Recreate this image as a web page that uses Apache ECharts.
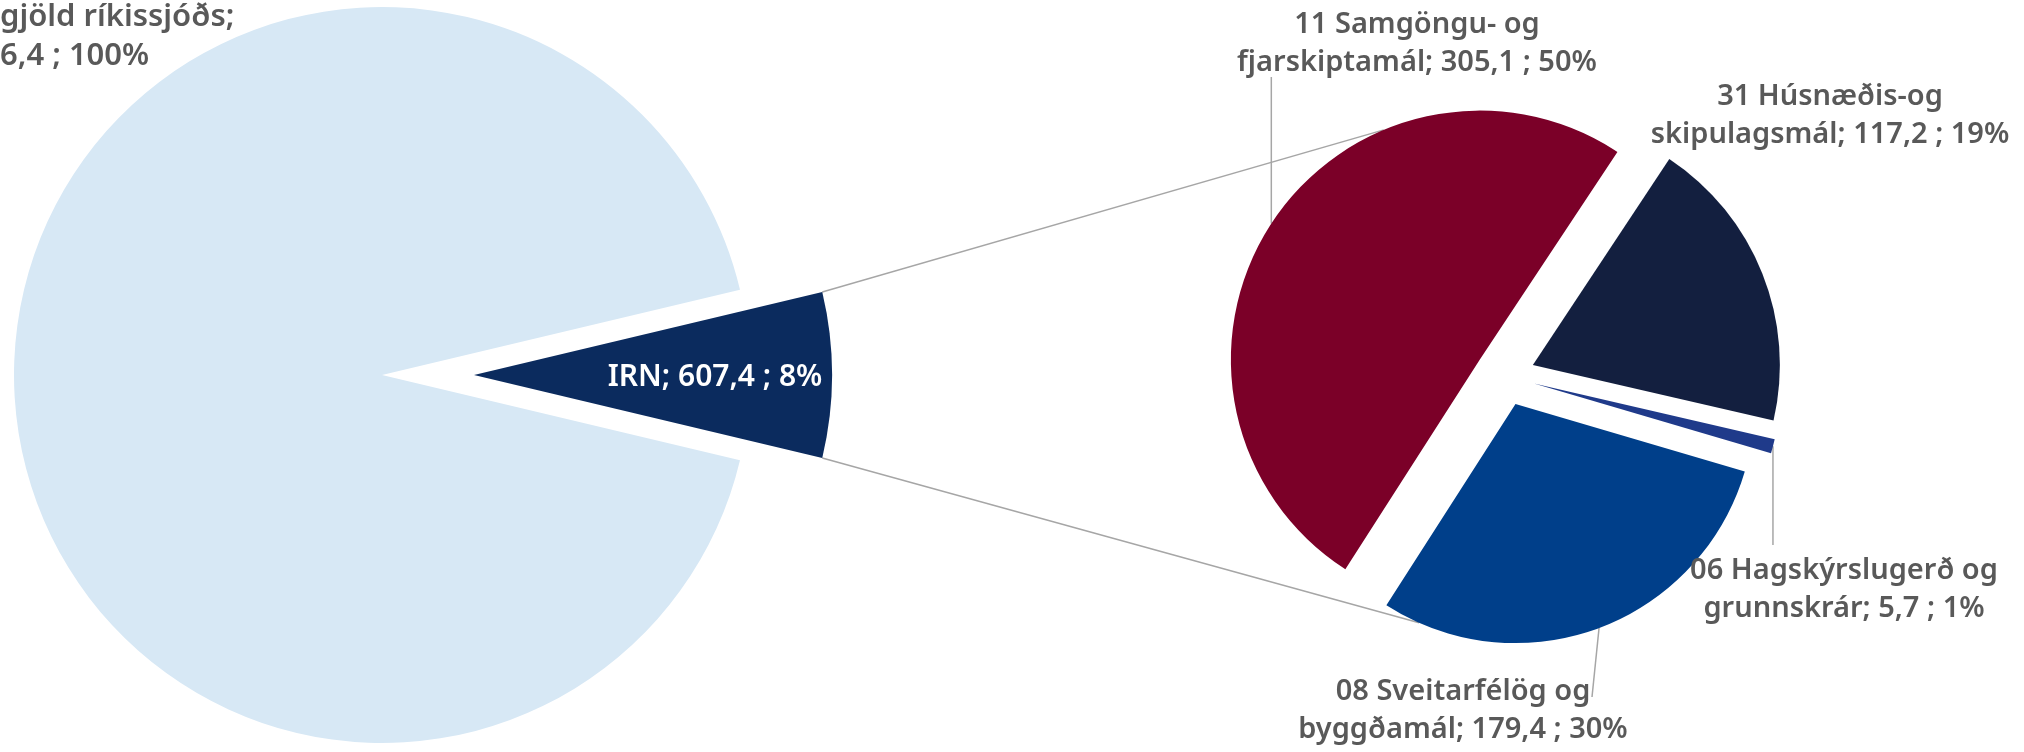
<!DOCTYPE html>
<html>
<head>
<meta charset="utf-8">
<script src="https://cdn.jsdelivr.net/npm/echarts@6/dist/echarts.min.js"></script>
<style>
  html, body { margin: 0; padding: 0; background: #ffffff; }
  #chart { width: 2024px; height: 752px; }
</style>
</head>
<body>
<div id="chart"></div>
<script>
// aðalskífa: IRN og heildargjöld ríkissjóðs
const mainNames = ['IRN', 'Heildargjöld ríkissjóðs'];
const mainValues = [607.4, 7556.4];
const mainLabels = ['IRN; 607,4 ; 8%', 'gjöld ríkissjóðs;\n6,4 ; 100%'];
const mainColors = ['#0b2b5e', '#d7e8f5'];

// undirskífa: málefnasvið IRN
const subNames = [
  '11 Samgöngu- og fjarskiptamál',
  '31 Húsnæðis-og skipulagsmál',
  '06 Hagskýrslugerð og grunnskrár',
  '08 Sveitarfélög og byggðamál'
];
const subValues = [305.1, 117.2, 5.7, 179.4];
const subLabels = [
  '11 Samgöngu- og\nfjarskiptamál; 305,1 ; 50%',
  '31 Húsnæðis-og\nskipulagsmál; 117,2 ; 19%',
  '06 Hagskýrslugerð og\ngrunnskrár; 5,7 ; 1%',
  '08 Sveitarfélög og\nbyggðamál; 179,4 ; 30%'
];
const subColors = ['#7b0028', '#131f3f', '#1f3a8a', '#003f8a'];

// útlit
const MAIN = { c: [382, 375], start: null, radius: [358, 368], offset: [92, 0] };
const SUB = { c: [1505, 376], start: 237.3, radius: [249, 247, 247, 239], offset: 30 };
const mainLabelPos = [[715, 377, 'center'], [0, 37, 'left']];
const subLabelPos = [[1417, 44], [1830, 116], [1844, 590], [1463, 711]];
const subLeaderEnd = [[null, 77], null, [null, 545], [1592, 697]];
const FONT = "'Noto Sans', 'Open Sans', sans-serif";
const LINE = '#a6a6a6';

const sum = a => a.reduce((s, v) => s + v, 0);
const polar = (c, r, deg) => [c[0] + r * Math.cos(deg * Math.PI / 180), c[1] - r * Math.sin(deg * Math.PI / 180)];

// miðhorn hvers bita, réttsælis frá upphafshorni
function midAngles(values, start) {
  const total = sum(values);
  const mids = [];
  let acc = start;
  values.forEach(v => {
    const a = 360 * v / total;
    mids.push(acc - a / 2);
    acc -= a;
  });
  return mids;
}

const irnHalf = 360 * mainValues[0] / sum(mainValues) / 2;
MAIN.start = irnHalf;
const mainMid = midAngles(mainValues, MAIN.start);
const subMid = midAngles(subValues, SUB.start);
const mainCenters = mainMid.map((m, i) => polar(MAIN.c, MAIN.offset[i], m));
const subCenters = subMid.map(m => polar(SUB.c, SUB.offset, m));

// ein pie-röð á hvern bita svo hver biti fái sína eigin miðju (sprengd skífa)
function sliceSeries(values, names, colors, idx, center, radius, start, label, labelLayout, leader) {
  return {
    type: 'pie',
    silent: true,
    center: center,
    radius: radius,
    startAngle: start,
    clockwise: true,
    avoidLabelOverlap: false,
    minShowLabelAngle: 0,
    emphasis: { disabled: true },
    labelLayout: labelLayout,
    data: values.map((v, i) => ({
      name: names[i],
      value: v,
      itemStyle: { color: i === idx ? colors[i] : 'rgba(0,0,0,0)' },
      label: Object.assign({ show: i === idx }, label),
      labelLine: { show: i === idx && leader, lineStyle: { color: LINE, width: 1.5 } }
    }))
  };
}

const series = [];

mainValues.forEach((v, idx) => {
  const label = idx === 0
    ? { position: 'inside', formatter: mainLabels[0], color: '#ffffff', fontFamily: FONT, fontSize: 30, fontWeight: 600 }
    : { position: 'outside', formatter: mainLabels[1], color: '#595959', fontFamily: FONT, fontSize: 31, fontWeight: 600, lineHeight: 39, align: 'left' };
  const layout = p => {
    const pos = mainLabelPos[p.dataIndex];
    return { x: pos[0], y: pos[1], align: pos[2], verticalAlign: 'middle' };
  };
  series.push(sliceSeries(mainValues, mainNames, mainColors, idx, mainCenters[idx], MAIN.radius[idx], MAIN.start, label, layout, false));
});

subValues.forEach((v, idx) => {
  const label = {
    position: 'outside',
    formatter: subLabels[idx],
    color: '#595959',
    fontFamily: FONT,
    fontSize: 29,
    fontWeight: 600,
    lineHeight: 38,
    align: 'center'
  };
  const layout = p => {
    const pos = subLabelPos[p.dataIndex];
    const out = { x: pos[0], y: pos[1], align: 'center', verticalAlign: 'middle' };
    const end = subLeaderEnd[p.dataIndex];
    if (end && p.labelLinePoints) {
      const s = p.labelLinePoints[0];
      const ex = end[0] == null ? s[0] : end[0];
      out.labelLinePoints = [s, [ex, end[1]], [ex, end[1]]];
    }
    return out;
  };
  series.push(sliceSeries(subValues, subNames, subColors, idx, subCenters[idx], SUB.radius[idx], SUB.start, label, layout, subLeaderEnd[idx] != null));
});

// tengilínur frá IRN yfir í undirskífuna
const irnTop = polar(mainCenters[0], MAIN.radius[0], irnHalf);
const irnBottom = polar(mainCenters[0], MAIN.radius[0], -irnHalf);
const connTop = polar(subCenters[0], SUB.radius[0], 112.7);
const connBottom = polar(subCenters[3], SUB.radius[3], -113.8);

const chart = echarts.init(document.getElementById('chart'));

chart.setOption({
  animation: false,
  backgroundColor: '#ffffff',
  graphic: [
    { type: 'line', z: -1, shape: { x1: irnTop[0], y1: irnTop[1], x2: connTop[0], y2: connTop[1] }, style: { stroke: LINE, lineWidth: 1.5 } },
    { type: 'line', z: -1, shape: { x1: irnBottom[0], y1: irnBottom[1], x2: connBottom[0], y2: connBottom[1] }, style: { stroke: LINE, lineWidth: 1.5 } }
  ],
  series: series
});
</script>
</body>
</html>
